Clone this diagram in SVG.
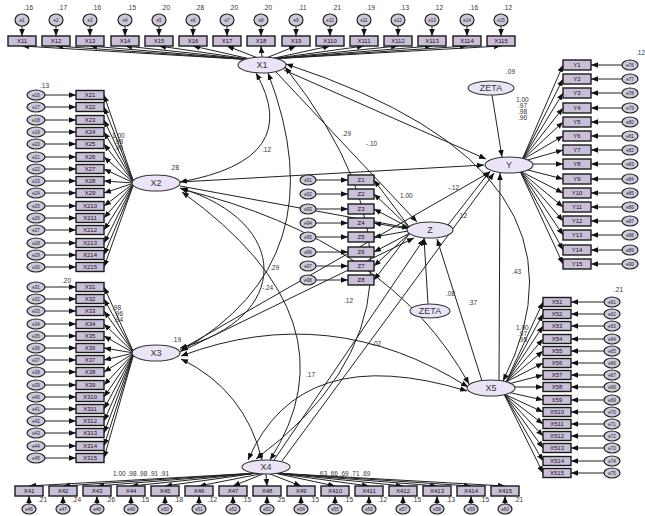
<svg xmlns="http://www.w3.org/2000/svg" width="645" height="516" viewBox="0 0 645 516">
<defs>
<marker id="a" viewBox="0 0 10 10" refX="10" refY="5" markerWidth="7" markerHeight="7" markerUnits="userSpaceOnUse" orient="auto-start-reverse"><path d="M0,1L10,5L0,9z" fill="#111"/></marker>
<style>
.lat{fill:#ebe4f6;stroke:#333;stroke-width:1.1}
.box{fill:#c9bfd8;stroke:#1a1a1a;stroke-width:1.4}
.err{fill:#cfc8dc;stroke:#222;stroke-width:1.2}
.ln{fill:none;stroke:#222;stroke-width:1}
.ar{marker-end:url(#a)}
.cv{marker-start:url(#a);marker-end:url(#a)}
text{font-family:"Liberation Sans",Arial,sans-serif}
.t{font-size:6.5px;fill:#333}
.bl{font-size:6px;fill:#111;text-anchor:middle}
.lt{font-size:9px;fill:#333;text-anchor:middle}
.el{font-size:4.5px;fill:#222;text-anchor:middle}
</style>
</defs>
<rect width="645" height="516" fill="#fff"/>

<g id="connectors">
<line class="ln ar" x1="284" y1="70" x2="486" y2="159"/>
<line class="ln ar" x1="276" y1="72" x2="417" y2="222"/>
<line class="ln ar" x1="180" y1="182" x2="484" y2="165"/>
<line class="ln ar" x1="180" y1="186" x2="409" y2="228"/>
<line class="ln ar" x1="180" y1="350" x2="490" y2="172"/>
<line class="ln ar" x1="180" y1="352" x2="414" y2="238"/>
<line class="ln ar" x1="282" y1="461" x2="494" y2="173"/>
<line class="ln ar" x1="274" y1="460" x2="424" y2="239"/>
<line class="ln ar" x1="499" y1="380" x2="500" y2="173"/>
<line class="ln ar" x1="482" y1="381" x2="437" y2="239"/>
<line class="ln ar" x1="448" y1="225" x2="490" y2="171"/>
<line class="ln ar" x1="492" y1="95" x2="502" y2="157"/>
<line class="ln ar" x1="428" y1="304" x2="424" y2="238"/>
<path class="ln cv" d="M256,73 Q305,160 180,182"/>
<path class="ln cv" d="M180,188 C292,222 292,318 180,348"/>
<path class="ln cv" d="M268,73 Q340,260 181,351"/>
<path class="ln cv" d="M285,67 Q470,300 256,459"/>
<path class="ln cv" d="M286,64 Q610,170 503,381"/>
<path class="ln cv" d="M181,189 Q390,240 469,384"/>
<path class="ln cv" d="M181,356 Q330,300 468,387"/>
<path class="ln cv" d="M248,460 Q300,340 467,391"/>
<path class="ln cv" d="M181,359 Q245,390 262,460"/>
<path class="ln cv" d="M182,192 Q360,320 270,460"/>
<line class="ln ar" x1="22" y1="26" x2="22" y2="36"/><line class="ln ar" x1="255" y1="60" x2="22" y2="46"/>
<line class="ln ar" x1="56" y1="26" x2="56" y2="36"/><line class="ln ar" x1="255" y1="60" x2="56" y2="46"/>
<line class="ln ar" x1="90" y1="26" x2="90" y2="36"/><line class="ln ar" x1="255" y1="60" x2="90" y2="46"/>
<line class="ln ar" x1="125" y1="26" x2="125" y2="36"/><line class="ln ar" x1="255" y1="60" x2="125" y2="46"/>
<line class="ln ar" x1="159" y1="26" x2="159" y2="36"/><line class="ln ar" x1="255" y1="60" x2="159" y2="46"/>
<line class="ln ar" x1="193" y1="26" x2="193" y2="36"/><line class="ln ar" x1="255" y1="60" x2="193" y2="46"/>
<line class="ln ar" x1="227" y1="26" x2="227" y2="36"/><line class="ln ar" x1="258" y1="58" x2="227" y2="46"/>
<line class="ln ar" x1="261" y1="26" x2="261" y2="36"/><line class="ln ar" x1="262" y1="57" x2="261" y2="46"/>
<line class="ln ar" x1="296" y1="26" x2="296" y2="36"/><line class="ln ar" x1="266" y1="58" x2="296" y2="46"/>
<line class="ln ar" x1="330" y1="26" x2="330" y2="36"/><line class="ln ar" x1="270" y1="59" x2="330" y2="46"/>
<line class="ln ar" x1="364" y1="26" x2="364" y2="36"/><line class="ln ar" x1="270" y1="59" x2="364" y2="46"/>
<line class="ln ar" x1="398" y1="26" x2="398" y2="36"/><line class="ln ar" x1="270" y1="59" x2="398" y2="46"/>
<line class="ln ar" x1="432" y1="26" x2="432" y2="36"/><line class="ln ar" x1="270" y1="59" x2="432" y2="46"/>
<line class="ln ar" x1="467" y1="26" x2="467" y2="36"/><line class="ln ar" x1="270" y1="59" x2="467" y2="46"/>
<line class="ln ar" x1="501" y1="26" x2="501" y2="36"/><line class="ln ar" x1="270" y1="59" x2="501" y2="46"/>
<line class="ln ar" x1="29" y1="504" x2="29" y2="496"/><line class="ln ar" x1="258" y1="473" x2="29" y2="486"/>
<line class="ln ar" x1="63" y1="504" x2="63" y2="496"/><line class="ln ar" x1="258" y1="473" x2="63" y2="486"/>
<line class="ln ar" x1="97" y1="504" x2="97" y2="496"/><line class="ln ar" x1="258" y1="473" x2="97" y2="486"/>
<line class="ln ar" x1="131" y1="504" x2="131" y2="496"/><line class="ln ar" x1="258" y1="473" x2="131" y2="486"/>
<line class="ln ar" x1="165" y1="504" x2="165" y2="496"/><line class="ln ar" x1="258" y1="473" x2="165" y2="486"/>
<line class="ln ar" x1="199" y1="504" x2="199" y2="496"/><line class="ln ar" x1="260" y1="474" x2="199" y2="486"/>
<line class="ln ar" x1="233" y1="504" x2="233" y2="496"/><line class="ln ar" x1="263" y1="474" x2="233" y2="486"/>
<line class="ln ar" x1="267" y1="504" x2="267" y2="496"/><line class="ln ar" x1="266" y1="474" x2="267" y2="486"/>
<line class="ln ar" x1="301" y1="504" x2="301" y2="496"/><line class="ln ar" x1="270" y1="474" x2="301" y2="486"/>
<line class="ln ar" x1="335" y1="504" x2="335" y2="496"/><line class="ln ar" x1="274" y1="473" x2="335" y2="486"/>
<line class="ln ar" x1="369" y1="504" x2="369" y2="496"/><line class="ln ar" x1="274" y1="473" x2="369" y2="486"/>
<line class="ln ar" x1="403" y1="504" x2="403" y2="496"/><line class="ln ar" x1="274" y1="473" x2="403" y2="486"/>
<line class="ln ar" x1="437" y1="504" x2="437" y2="496"/><line class="ln ar" x1="274" y1="473" x2="437" y2="486"/>
<line class="ln ar" x1="471" y1="504" x2="471" y2="496"/><line class="ln ar" x1="274" y1="473" x2="471" y2="486"/>
<line class="ln ar" x1="505" y1="504" x2="505" y2="496"/><line class="ln ar" x1="274" y1="473" x2="505" y2="486"/>
<line class="ln ar" x1="45" y1="95" x2="76" y2="95"/><line class="ln ar" x1="134" y1="183" x2="104" y2="95"/>
<line class="ln ar" x1="45" y1="107" x2="76" y2="107"/><line class="ln ar" x1="134" y1="183" x2="104" y2="107"/>
<line class="ln ar" x1="45" y1="120" x2="76" y2="120"/><line class="ln ar" x1="134" y1="183" x2="104" y2="120"/>
<line class="ln ar" x1="45" y1="132" x2="76" y2="132"/><line class="ln ar" x1="134" y1="183" x2="104" y2="132"/>
<line class="ln ar" x1="45" y1="144" x2="76" y2="144"/><line class="ln ar" x1="134" y1="183" x2="104" y2="144"/>
<line class="ln ar" x1="45" y1="157" x2="76" y2="157"/><line class="ln ar" x1="134" y1="183" x2="104" y2="157"/>
<line class="ln ar" x1="45" y1="169" x2="76" y2="169"/><line class="ln ar" x1="134" y1="183" x2="104" y2="169"/>
<line class="ln ar" x1="45" y1="181" x2="76" y2="181"/><line class="ln ar" x1="134" y1="183" x2="104" y2="181"/>
<line class="ln ar" x1="45" y1="193" x2="76" y2="193"/><line class="ln ar" x1="134" y1="183" x2="104" y2="193"/>
<line class="ln ar" x1="45" y1="206" x2="76" y2="206"/><line class="ln ar" x1="134" y1="183" x2="104" y2="206"/>
<line class="ln ar" x1="45" y1="218" x2="76" y2="218"/><line class="ln ar" x1="134" y1="183" x2="104" y2="218"/>
<line class="ln ar" x1="45" y1="230" x2="76" y2="230"/><line class="ln ar" x1="134" y1="183" x2="104" y2="230"/>
<line class="ln ar" x1="45" y1="243" x2="76" y2="243"/><line class="ln ar" x1="134" y1="183" x2="104" y2="243"/>
<line class="ln ar" x1="45" y1="255" x2="76" y2="255"/><line class="ln ar" x1="134" y1="183" x2="104" y2="255"/>
<line class="ln ar" x1="45" y1="267" x2="76" y2="267"/><line class="ln ar" x1="134" y1="183" x2="104" y2="267"/>
<line class="ln ar" x1="45" y1="287" x2="76" y2="287"/><line class="ln ar" x1="134" y1="353" x2="104" y2="287"/>
<line class="ln ar" x1="45" y1="299" x2="76" y2="299"/><line class="ln ar" x1="134" y1="353" x2="104" y2="299"/>
<line class="ln ar" x1="45" y1="311" x2="76" y2="311"/><line class="ln ar" x1="134" y1="353" x2="104" y2="311"/>
<line class="ln ar" x1="45" y1="324" x2="76" y2="324"/><line class="ln ar" x1="134" y1="353" x2="104" y2="324"/>
<line class="ln ar" x1="45" y1="336" x2="76" y2="336"/><line class="ln ar" x1="134" y1="353" x2="104" y2="336"/>
<line class="ln ar" x1="45" y1="348" x2="76" y2="348"/><line class="ln ar" x1="134" y1="353" x2="104" y2="348"/>
<line class="ln ar" x1="45" y1="360" x2="76" y2="360"/><line class="ln ar" x1="134" y1="353" x2="104" y2="360"/>
<line class="ln ar" x1="45" y1="372" x2="76" y2="372"/><line class="ln ar" x1="134" y1="353" x2="104" y2="372"/>
<line class="ln ar" x1="45" y1="385" x2="76" y2="385"/><line class="ln ar" x1="134" y1="353" x2="104" y2="385"/>
<line class="ln ar" x1="45" y1="397" x2="76" y2="397"/><line class="ln ar" x1="134" y1="353" x2="104" y2="397"/>
<line class="ln ar" x1="45" y1="409" x2="76" y2="409"/><line class="ln ar" x1="134" y1="353" x2="104" y2="409"/>
<line class="ln ar" x1="45" y1="421" x2="76" y2="421"/><line class="ln ar" x1="134" y1="353" x2="104" y2="421"/>
<line class="ln ar" x1="45" y1="433" x2="76" y2="433"/><line class="ln ar" x1="134" y1="353" x2="104" y2="433"/>
<line class="ln ar" x1="45" y1="446" x2="76" y2="446"/><line class="ln ar" x1="134" y1="353" x2="104" y2="446"/>
<line class="ln ar" x1="45" y1="458" x2="76" y2="458"/><line class="ln ar" x1="134" y1="353" x2="104" y2="458"/>
<line class="ln ar" x1="622" y1="65" x2="591" y2="65"/><line class="ln ar" x1="522" y1="160" x2="563" y2="65"/>
<line class="ln ar" x1="622" y1="79" x2="591" y2="79"/><line class="ln ar" x1="522" y1="160" x2="563" y2="79"/>
<line class="ln ar" x1="622" y1="93" x2="591" y2="93"/><line class="ln ar" x1="522" y1="160" x2="563" y2="93"/>
<line class="ln ar" x1="622" y1="108" x2="591" y2="108"/><line class="ln ar" x1="522" y1="160" x2="563" y2="108"/>
<line class="ln ar" x1="622" y1="122" x2="591" y2="122"/><line class="ln ar" x1="522" y1="160" x2="563" y2="122"/>
<line class="ln ar" x1="622" y1="136" x2="591" y2="136"/><line class="ln ar" x1="522" y1="160" x2="563" y2="136"/>
<line class="ln ar" x1="622" y1="150" x2="591" y2="150"/><line class="ln ar" x1="524" y1="161" x2="563" y2="150"/>
<line class="ln ar" x1="622" y1="164" x2="591" y2="164"/><line class="ln ar" x1="528" y1="164" x2="563" y2="164"/>
<line class="ln ar" x1="622" y1="179" x2="591" y2="179"/><line class="ln ar" x1="524" y1="169" x2="563" y2="179"/>
<line class="ln ar" x1="622" y1="193" x2="591" y2="193"/><line class="ln ar" x1="520" y1="171" x2="563" y2="193"/>
<line class="ln ar" x1="622" y1="207" x2="591" y2="207"/><line class="ln ar" x1="520" y1="171" x2="563" y2="207"/>
<line class="ln ar" x1="622" y1="221" x2="591" y2="221"/><line class="ln ar" x1="520" y1="171" x2="563" y2="221"/>
<line class="ln ar" x1="622" y1="235" x2="591" y2="235"/><line class="ln ar" x1="520" y1="171" x2="563" y2="235"/>
<line class="ln ar" x1="622" y1="250" x2="591" y2="250"/><line class="ln ar" x1="520" y1="171" x2="563" y2="250"/>
<line class="ln ar" x1="622" y1="264" x2="591" y2="264"/><line class="ln ar" x1="520" y1="171" x2="563" y2="264"/>
<line class="ln ar" x1="604" y1="302" x2="571" y2="302"/><line class="ln ar" x1="506" y1="382" x2="543" y2="302"/>
<line class="ln ar" x1="604" y1="314" x2="571" y2="314"/><line class="ln ar" x1="506" y1="382" x2="543" y2="314"/>
<line class="ln ar" x1="604" y1="326" x2="571" y2="326"/><line class="ln ar" x1="506" y1="382" x2="543" y2="326"/>
<line class="ln ar" x1="604" y1="339" x2="571" y2="339"/><line class="ln ar" x1="506" y1="382" x2="543" y2="339"/>
<line class="ln ar" x1="604" y1="351" x2="571" y2="351"/><line class="ln ar" x1="506" y1="382" x2="543" y2="351"/>
<line class="ln ar" x1="604" y1="363" x2="571" y2="363"/><line class="ln ar" x1="506" y1="382" x2="543" y2="363"/>
<line class="ln ar" x1="604" y1="375" x2="571" y2="375"/><line class="ln ar" x1="508" y1="384" x2="543" y2="375"/>
<line class="ln ar" x1="604" y1="387" x2="571" y2="387"/><line class="ln ar" x1="512" y1="387" x2="543" y2="387"/>
<line class="ln ar" x1="604" y1="400" x2="571" y2="400"/><line class="ln ar" x1="507" y1="392" x2="543" y2="400"/>
<line class="ln ar" x1="604" y1="412" x2="571" y2="412"/><line class="ln ar" x1="504" y1="394" x2="543" y2="412"/>
<line class="ln ar" x1="604" y1="424" x2="571" y2="424"/><line class="ln ar" x1="504" y1="394" x2="543" y2="424"/>
<line class="ln ar" x1="604" y1="436" x2="571" y2="436"/><line class="ln ar" x1="504" y1="394" x2="543" y2="436"/>
<line class="ln ar" x1="604" y1="448" x2="571" y2="448"/><line class="ln ar" x1="504" y1="394" x2="543" y2="448"/>
<line class="ln ar" x1="604" y1="461" x2="571" y2="461"/><line class="ln ar" x1="504" y1="394" x2="543" y2="461"/>
<line class="ln ar" x1="604" y1="473" x2="571" y2="473"/><line class="ln ar" x1="504" y1="394" x2="543" y2="473"/>
<line class="ln ar" x1="316" y1="180" x2="348" y2="180"/><line class="ln ar" x1="410" y1="228" x2="374" y2="180"/>
<line class="ln ar" x1="316" y1="194" x2="348" y2="194"/><line class="ln ar" x1="410" y1="228" x2="374" y2="194"/>
<line class="ln ar" x1="316" y1="209" x2="348" y2="209"/><line class="ln ar" x1="410" y1="228" x2="374" y2="209"/>
<line class="ln ar" x1="316" y1="223" x2="348" y2="223"/><line class="ln ar" x1="408" y1="229" x2="374" y2="223"/>
<line class="ln ar" x1="316" y1="237" x2="348" y2="237"/><line class="ln ar" x1="408" y1="231" x2="374" y2="237"/>
<line class="ln ar" x1="316" y1="252" x2="348" y2="252"/><line class="ln ar" x1="410" y1="233" x2="374" y2="252"/>
<line class="ln ar" x1="316" y1="266" x2="348" y2="266"/><line class="ln ar" x1="410" y1="233" x2="374" y2="266"/>
<line class="ln ar" x1="316" y1="280" x2="348" y2="280"/><line class="ln ar" x1="410" y1="233" x2="374" y2="280"/>
</g>

<g id="X1"><ellipse class="lat" cx="262" cy="65" rx="24" ry="8"/><text class="lt" x="262" y="68">X1</text></g>
<g id="X2"><ellipse class="lat" cx="156" cy="183" rx="24" ry="8"/><text class="lt" x="156" y="186">X2</text></g>
<g id="X3"><ellipse class="lat" cx="156" cy="353" rx="24" ry="8"/><text class="lt" x="156" y="356">X3</text></g>
<g id="X4"><ellipse class="lat" cx="266" cy="467" rx="24" ry="7"/><text class="lt" x="266" y="470">X4</text></g>
<g id="X5"><ellipse class="lat" cx="491" cy="388" rx="24" ry="8"/><text class="lt" x="491" y="391">X5</text></g>
<g id="Y"><ellipse class="lat" cx="509" cy="165" rx="24" ry="8"/><text class="lt" x="509" y="168">Y</text></g>
<g id="Z"><ellipse class="lat" cx="430" cy="230" rx="23" ry="8"/><text class="lt" x="430" y="233">Z</text></g>
<g id="ZETA1"><ellipse class="lat" cx="491" cy="88" rx="23" ry="7"/><text class="lt" x="491" y="91">ZETA</text></g>
<g id="ZETA2"><ellipse class="lat" cx="430" cy="311" rx="20" ry="7"/><text class="lt" x="430" y="314">ZETA</text></g>

<g id="X11"><ellipse class="err" cx="22" cy="20" rx="7" ry="6"/><text class="el" x="22" y="21.5">e1</text><rect class="box" x="8" y="36" width="28" height="10"/><text class="bl" x="22" y="43">X11</text></g>
<g id="X12"><ellipse class="err" cx="56" cy="20" rx="7" ry="6"/><text class="el" x="56" y="21.5">e2</text><rect class="box" x="42" y="36" width="28" height="10"/><text class="bl" x="56" y="43">X12</text></g>
<g id="X13"><ellipse class="err" cx="90" cy="20" rx="7" ry="6"/><text class="el" x="90" y="21.5">e3</text><rect class="box" x="76" y="36" width="28" height="10"/><text class="bl" x="90" y="43">X13</text></g>
<g id="X14"><ellipse class="err" cx="125" cy="20" rx="7" ry="6"/><text class="el" x="125" y="21.5">e4</text><rect class="box" x="111" y="36" width="28" height="10"/><text class="bl" x="125" y="43">X14</text></g>
<g id="X15"><ellipse class="err" cx="159" cy="20" rx="7" ry="6"/><text class="el" x="159" y="21.5">e5</text><rect class="box" x="145" y="36" width="28" height="10"/><text class="bl" x="159" y="43">X15</text></g>
<g id="X16"><ellipse class="err" cx="193" cy="20" rx="7" ry="6"/><text class="el" x="193" y="21.5">e6</text><rect class="box" x="179" y="36" width="28" height="10"/><text class="bl" x="193" y="43">X16</text></g>
<g id="X17"><ellipse class="err" cx="227" cy="20" rx="7" ry="6"/><text class="el" x="227" y="21.5">e7</text><rect class="box" x="213" y="36" width="28" height="10"/><text class="bl" x="227" y="43">X17</text></g>
<g id="X18"><ellipse class="err" cx="261" cy="20" rx="7" ry="6"/><text class="el" x="261" y="21.5">e8</text><rect class="box" x="247" y="36" width="28" height="10"/><text class="bl" x="261" y="43">X18</text></g>
<g id="X19"><ellipse class="err" cx="296" cy="20" rx="7" ry="6"/><text class="el" x="296" y="21.5">e9</text><rect class="box" x="282" y="36" width="28" height="10"/><text class="bl" x="296" y="43">X19</text></g>
<g id="X110"><ellipse class="err" cx="330" cy="20" rx="7" ry="6"/><text class="el" x="330" y="21.5">e10</text><rect class="box" x="316" y="36" width="28" height="10"/><text class="bl" x="330" y="43">X110</text></g>
<g id="X111"><ellipse class="err" cx="364" cy="20" rx="7" ry="6"/><text class="el" x="364" y="21.5">e11</text><rect class="box" x="350" y="36" width="28" height="10"/><text class="bl" x="364" y="43">X111</text></g>
<g id="X112"><ellipse class="err" cx="398" cy="20" rx="7" ry="6"/><text class="el" x="398" y="21.5">e12</text><rect class="box" x="384" y="36" width="28" height="10"/><text class="bl" x="398" y="43">X112</text></g>
<g id="X113"><ellipse class="err" cx="432" cy="20" rx="7" ry="6"/><text class="el" x="432" y="21.5">e13</text><rect class="box" x="418" y="36" width="28" height="10"/><text class="bl" x="432" y="43">X113</text></g>
<g id="X114"><ellipse class="err" cx="467" cy="20" rx="7" ry="6"/><text class="el" x="467" y="21.5">e14</text><rect class="box" x="453" y="36" width="28" height="10"/><text class="bl" x="467" y="43">X114</text></g>
<g id="X115"><ellipse class="err" cx="501" cy="20" rx="7" ry="6"/><text class="el" x="501" y="21.5">e15</text><rect class="box" x="487" y="36" width="28" height="10"/><text class="bl" x="501" y="43">X115</text></g>

<g id="X41"><rect class="box" x="15" y="486" width="28" height="10"/><text class="bl" x="29" y="493">X41</text><ellipse class="err" cx="29" cy="509" rx="7" ry="5"/><text class="el" x="29" y="510.5">e46</text></g>
<g id="X42"><rect class="box" x="49" y="486" width="28" height="10"/><text class="bl" x="63" y="493">X42</text><ellipse class="err" cx="63" cy="509" rx="7" ry="5"/><text class="el" x="63" y="510.5">e47</text></g>
<g id="X43"><rect class="box" x="83" y="486" width="28" height="10"/><text class="bl" x="97" y="493">X43</text><ellipse class="err" cx="97" cy="509" rx="7" ry="5"/><text class="el" x="97" y="510.5">e48</text></g>
<g id="X44"><rect class="box" x="117" y="486" width="28" height="10"/><text class="bl" x="131" y="493">X44</text><ellipse class="err" cx="131" cy="509" rx="7" ry="5"/><text class="el" x="131" y="510.5">e49</text></g>
<g id="X45"><rect class="box" x="151" y="486" width="28" height="10"/><text class="bl" x="165" y="493">X45</text><ellipse class="err" cx="165" cy="509" rx="7" ry="5"/><text class="el" x="165" y="510.5">e50</text></g>
<g id="X46"><rect class="box" x="185" y="486" width="28" height="10"/><text class="bl" x="199" y="493">X46</text><ellipse class="err" cx="199" cy="509" rx="7" ry="5"/><text class="el" x="199" y="510.5">e51</text></g>
<g id="X47"><rect class="box" x="219" y="486" width="28" height="10"/><text class="bl" x="233" y="493">X47</text><ellipse class="err" cx="233" cy="509" rx="7" ry="5"/><text class="el" x="233" y="510.5">e52</text></g>
<g id="X48"><rect class="box" x="253" y="486" width="28" height="10"/><text class="bl" x="267" y="493">X48</text><ellipse class="err" cx="267" cy="509" rx="7" ry="5"/><text class="el" x="267" y="510.5">e53</text></g>
<g id="X49"><rect class="box" x="287" y="486" width="28" height="10"/><text class="bl" x="301" y="493">X49</text><ellipse class="err" cx="301" cy="509" rx="7" ry="5"/><text class="el" x="301" y="510.5">e54</text></g>
<g id="X410"><rect class="box" x="321" y="486" width="28" height="10"/><text class="bl" x="335" y="493">X410</text><ellipse class="err" cx="335" cy="509" rx="7" ry="5"/><text class="el" x="335" y="510.5">e55</text></g>
<g id="X411"><rect class="box" x="355" y="486" width="28" height="10"/><text class="bl" x="369" y="493">X411</text><ellipse class="err" cx="369" cy="509" rx="7" ry="5"/><text class="el" x="369" y="510.5">e56</text></g>
<g id="X412"><rect class="box" x="389" y="486" width="28" height="10"/><text class="bl" x="403" y="493">X412</text><ellipse class="err" cx="403" cy="509" rx="7" ry="5"/><text class="el" x="403" y="510.5">e57</text></g>
<g id="X413"><rect class="box" x="423" y="486" width="28" height="10"/><text class="bl" x="437" y="493">X413</text><ellipse class="err" cx="437" cy="509" rx="7" ry="5"/><text class="el" x="437" y="510.5">e58</text></g>
<g id="X414"><rect class="box" x="457" y="486" width="28" height="10"/><text class="bl" x="471" y="493">X414</text><ellipse class="err" cx="471" cy="509" rx="7" ry="5"/><text class="el" x="471" y="510.5">e59</text></g>
<g id="X415"><rect class="box" x="491" y="486" width="28" height="10"/><text class="bl" x="505" y="493">X415</text><ellipse class="err" cx="505" cy="509" rx="7" ry="5"/><text class="el" x="505" y="510.5">e60</text></g>

<g id="X21"><ellipse class="err" cx="36" cy="95" rx="9" ry="5"/><text class="el" x="36" y="96.5">e16</text><rect class="box" x="76" y="90.5" width="28" height="9"/><text class="bl" x="90" y="97">X21</text></g>
<g id="X22"><ellipse class="err" cx="36" cy="107" rx="9" ry="5"/><text class="el" x="36" y="108.5">e17</text><rect class="box" x="76" y="102.5" width="28" height="9"/><text class="bl" x="90" y="109">X22</text></g>
<g id="X23"><ellipse class="err" cx="36" cy="120" rx="9" ry="5"/><text class="el" x="36" y="121.5">e18</text><rect class="box" x="76" y="115.5" width="28" height="9"/><text class="bl" x="90" y="122">X23</text></g>
<g id="X24"><ellipse class="err" cx="36" cy="132" rx="9" ry="5"/><text class="el" x="36" y="133.5">e19</text><rect class="box" x="76" y="127.5" width="28" height="9"/><text class="bl" x="90" y="134">X24</text></g>
<g id="X25"><ellipse class="err" cx="36" cy="144" rx="9" ry="5"/><text class="el" x="36" y="145.5">e20</text><rect class="box" x="76" y="139.5" width="28" height="9"/><text class="bl" x="90" y="146">X25</text></g>
<g id="X26"><ellipse class="err" cx="36" cy="157" rx="9" ry="5"/><text class="el" x="36" y="158.5">e21</text><rect class="box" x="76" y="152.5" width="28" height="9"/><text class="bl" x="90" y="159">X26</text></g>
<g id="X27"><ellipse class="err" cx="36" cy="169" rx="9" ry="5"/><text class="el" x="36" y="170.5">e22</text><rect class="box" x="76" y="164.5" width="28" height="9"/><text class="bl" x="90" y="171">X27</text></g>
<g id="X28"><ellipse class="err" cx="36" cy="181" rx="9" ry="5"/><text class="el" x="36" y="182.5">e23</text><rect class="box" x="76" y="176.5" width="28" height="9"/><text class="bl" x="90" y="183">X28</text></g>
<g id="X29"><ellipse class="err" cx="36" cy="193" rx="9" ry="5"/><text class="el" x="36" y="194.5">e24</text><rect class="box" x="76" y="188.5" width="28" height="9"/><text class="bl" x="90" y="195">X29</text></g>
<g id="X210"><ellipse class="err" cx="36" cy="206" rx="9" ry="5"/><text class="el" x="36" y="207.5">e25</text><rect class="box" x="76" y="201.5" width="28" height="9"/><text class="bl" x="90" y="208">X210</text></g>
<g id="X211"><ellipse class="err" cx="36" cy="218" rx="9" ry="5"/><text class="el" x="36" y="219.5">e26</text><rect class="box" x="76" y="213.5" width="28" height="9"/><text class="bl" x="90" y="220">X211</text></g>
<g id="X212"><ellipse class="err" cx="36" cy="230" rx="9" ry="5"/><text class="el" x="36" y="231.5">e27</text><rect class="box" x="76" y="225.5" width="28" height="9"/><text class="bl" x="90" y="232">X212</text></g>
<g id="X213"><ellipse class="err" cx="36" cy="243" rx="9" ry="5"/><text class="el" x="36" y="244.5">e28</text><rect class="box" x="76" y="238.5" width="28" height="9"/><text class="bl" x="90" y="245">X213</text></g>
<g id="X214"><ellipse class="err" cx="36" cy="255" rx="9" ry="5"/><text class="el" x="36" y="256.5">e29</text><rect class="box" x="76" y="250.5" width="28" height="9"/><text class="bl" x="90" y="257">X214</text></g>
<g id="X215"><ellipse class="err" cx="36" cy="267" rx="9" ry="5"/><text class="el" x="36" y="268.5">e30</text><rect class="box" x="76" y="262.5" width="28" height="9"/><text class="bl" x="90" y="269">X215</text></g>

<g id="X31"><ellipse class="err" cx="36" cy="287" rx="9" ry="5"/><text class="el" x="36" y="288.5">e31</text><rect class="box" x="76" y="282.5" width="28" height="9"/><text class="bl" x="90" y="289">X31</text></g>
<g id="X32"><ellipse class="err" cx="36" cy="299" rx="9" ry="5"/><text class="el" x="36" y="300.5">e32</text><rect class="box" x="76" y="294.5" width="28" height="9"/><text class="bl" x="90" y="301">X32</text></g>
<g id="X33"><ellipse class="err" cx="36" cy="311" rx="9" ry="5"/><text class="el" x="36" y="312.5">e33</text><rect class="box" x="76" y="306.5" width="28" height="9"/><text class="bl" x="90" y="313">X33</text></g>
<g id="X34"><ellipse class="err" cx="36" cy="324" rx="9" ry="5"/><text class="el" x="36" y="325.5">e34</text><rect class="box" x="76" y="319.5" width="28" height="9"/><text class="bl" x="90" y="326">X34</text></g>
<g id="X35"><ellipse class="err" cx="36" cy="336" rx="9" ry="5"/><text class="el" x="36" y="337.5">e35</text><rect class="box" x="76" y="331.5" width="28" height="9"/><text class="bl" x="90" y="338">X35</text></g>
<g id="X36"><ellipse class="err" cx="36" cy="348" rx="9" ry="5"/><text class="el" x="36" y="349.5">e36</text><rect class="box" x="76" y="343.5" width="28" height="9"/><text class="bl" x="90" y="350">X36</text></g>
<g id="X37"><ellipse class="err" cx="36" cy="360" rx="9" ry="5"/><text class="el" x="36" y="361.5">e37</text><rect class="box" x="76" y="355.5" width="28" height="9"/><text class="bl" x="90" y="362">X37</text></g>
<g id="X38"><ellipse class="err" cx="36" cy="372" rx="9" ry="5"/><text class="el" x="36" y="373.5">e38</text><rect class="box" x="76" y="367.5" width="28" height="9"/><text class="bl" x="90" y="374">X38</text></g>
<g id="X39"><ellipse class="err" cx="36" cy="385" rx="9" ry="5"/><text class="el" x="36" y="386.5">e39</text><rect class="box" x="76" y="380.5" width="28" height="9"/><text class="bl" x="90" y="387">X39</text></g>
<g id="X310"><ellipse class="err" cx="36" cy="397" rx="9" ry="5"/><text class="el" x="36" y="398.5">e40</text><rect class="box" x="76" y="392.5" width="28" height="9"/><text class="bl" x="90" y="399">X310</text></g>
<g id="X311"><ellipse class="err" cx="36" cy="409" rx="9" ry="5"/><text class="el" x="36" y="410.5">e41</text><rect class="box" x="76" y="404.5" width="28" height="9"/><text class="bl" x="90" y="411">X311</text></g>
<g id="X312"><ellipse class="err" cx="36" cy="421" rx="9" ry="5"/><text class="el" x="36" y="422.5">e42</text><rect class="box" x="76" y="416.5" width="28" height="9"/><text class="bl" x="90" y="423">X312</text></g>
<g id="X313"><ellipse class="err" cx="36" cy="433" rx="9" ry="5"/><text class="el" x="36" y="434.5">e43</text><rect class="box" x="76" y="428.5" width="28" height="9"/><text class="bl" x="90" y="435">X313</text></g>
<g id="X314"><ellipse class="err" cx="36" cy="446" rx="9" ry="5"/><text class="el" x="36" y="447.5">e44</text><rect class="box" x="76" y="441.5" width="28" height="9"/><text class="bl" x="90" y="448">X314</text></g>
<g id="X315"><ellipse class="err" cx="36" cy="458" rx="9" ry="5"/><text class="el" x="36" y="459.5">e45</text><rect class="box" x="76" y="453.5" width="28" height="9"/><text class="bl" x="90" y="460">X315</text></g>

<g id="Y1"><rect class="box" x="563" y="60" width="28" height="10"/><text class="bl" x="577" y="67">Y1</text><ellipse class="err" cx="630" cy="65" rx="8" ry="5"/><text class="el" x="630" y="66.5">e76</text></g>
<g id="Y2"><rect class="box" x="563" y="74" width="28" height="10"/><text class="bl" x="577" y="81">Y2</text><ellipse class="err" cx="630" cy="79" rx="8" ry="5"/><text class="el" x="630" y="80.5">e77</text></g>
<g id="Y3"><rect class="box" x="563" y="88" width="28" height="10"/><text class="bl" x="577" y="95">Y3</text><ellipse class="err" cx="630" cy="93" rx="8" ry="5"/><text class="el" x="630" y="94.5">e78</text></g>
<g id="Y4"><rect class="box" x="563" y="103" width="28" height="10"/><text class="bl" x="577" y="110">Y4</text><ellipse class="err" cx="630" cy="108" rx="8" ry="5"/><text class="el" x="630" y="109.5">e79</text></g>
<g id="Y5"><rect class="box" x="563" y="117" width="28" height="10"/><text class="bl" x="577" y="124">Y5</text><ellipse class="err" cx="630" cy="122" rx="8" ry="5"/><text class="el" x="630" y="123.5">e80</text></g>
<g id="Y6"><rect class="box" x="563" y="131" width="28" height="10"/><text class="bl" x="577" y="138">Y6</text><ellipse class="err" cx="630" cy="136" rx="8" ry="5"/><text class="el" x="630" y="137.5">e81</text></g>
<g id="Y7"><rect class="box" x="563" y="145" width="28" height="10"/><text class="bl" x="577" y="152">Y7</text><ellipse class="err" cx="630" cy="150" rx="8" ry="5"/><text class="el" x="630" y="151.5">e82</text></g>
<g id="Y8"><rect class="box" x="563" y="159" width="28" height="10"/><text class="bl" x="577" y="166">Y8</text><ellipse class="err" cx="630" cy="164" rx="8" ry="5"/><text class="el" x="630" y="165.5">e83</text></g>
<g id="Y9"><rect class="box" x="563" y="174" width="28" height="10"/><text class="bl" x="577" y="181">Y9</text><ellipse class="err" cx="630" cy="179" rx="8" ry="5"/><text class="el" x="630" y="180.5">e84</text></g>
<g id="Y10"><rect class="box" x="563" y="188" width="28" height="10"/><text class="bl" x="577" y="195">Y10</text><ellipse class="err" cx="630" cy="193" rx="8" ry="5"/><text class="el" x="630" y="194.5">e85</text></g>
<g id="Y11"><rect class="box" x="563" y="202" width="28" height="10"/><text class="bl" x="577" y="209">Y11</text><ellipse class="err" cx="630" cy="207" rx="8" ry="5"/><text class="el" x="630" y="208.5">e86</text></g>
<g id="Y12"><rect class="box" x="563" y="216" width="28" height="10"/><text class="bl" x="577" y="223">Y12</text><ellipse class="err" cx="630" cy="221" rx="8" ry="5"/><text class="el" x="630" y="222.5">e87</text></g>
<g id="Y13"><rect class="box" x="563" y="230" width="28" height="10"/><text class="bl" x="577" y="237">Y13</text><ellipse class="err" cx="630" cy="235" rx="8" ry="5"/><text class="el" x="630" y="236.5">e88</text></g>
<g id="Y14"><rect class="box" x="563" y="245" width="28" height="10"/><text class="bl" x="577" y="252">Y14</text><ellipse class="err" cx="630" cy="250" rx="8" ry="5"/><text class="el" x="630" y="251.5">e89</text></g>
<g id="Y15"><rect class="box" x="563" y="259" width="28" height="10"/><text class="bl" x="577" y="266">Y15</text><ellipse class="err" cx="630" cy="264" rx="8" ry="5"/><text class="el" x="630" y="265.5">e90</text></g>

<g id="X51"><rect class="box" x="543" y="297.5" width="28" height="9"/><text class="bl" x="557" y="304">X51</text><ellipse class="err" cx="612" cy="302" rx="8" ry="5"/><text class="el" x="612" y="303.5">e61</text></g>
<g id="X52"><rect class="box" x="543" y="309.5" width="28" height="9"/><text class="bl" x="557" y="316">X52</text><ellipse class="err" cx="612" cy="314" rx="8" ry="5"/><text class="el" x="612" y="315.5">e62</text></g>
<g id="X53"><rect class="box" x="543" y="321.5" width="28" height="9"/><text class="bl" x="557" y="328">X53</text><ellipse class="err" cx="612" cy="326" rx="8" ry="5"/><text class="el" x="612" y="327.5">e63</text></g>
<g id="X54"><rect class="box" x="543" y="334.5" width="28" height="9"/><text class="bl" x="557" y="341">X54</text><ellipse class="err" cx="612" cy="339" rx="8" ry="5"/><text class="el" x="612" y="340.5">e64</text></g>
<g id="X55"><rect class="box" x="543" y="346.5" width="28" height="9"/><text class="bl" x="557" y="353">X55</text><ellipse class="err" cx="612" cy="351" rx="8" ry="5"/><text class="el" x="612" y="352.5">e65</text></g>
<g id="X56"><rect class="box" x="543" y="358.5" width="28" height="9"/><text class="bl" x="557" y="365">X56</text><ellipse class="err" cx="612" cy="363" rx="8" ry="5"/><text class="el" x="612" y="364.5">e66</text></g>
<g id="X57"><rect class="box" x="543" y="370.5" width="28" height="9"/><text class="bl" x="557" y="377">X57</text><ellipse class="err" cx="612" cy="375" rx="8" ry="5"/><text class="el" x="612" y="376.5">e67</text></g>
<g id="X58"><rect class="box" x="543" y="382.5" width="28" height="9"/><text class="bl" x="557" y="389">X58</text><ellipse class="err" cx="612" cy="387" rx="8" ry="5"/><text class="el" x="612" y="388.5">e68</text></g>
<g id="X59"><rect class="box" x="543" y="395.5" width="28" height="9"/><text class="bl" x="557" y="402">X59</text><ellipse class="err" cx="612" cy="400" rx="8" ry="5"/><text class="el" x="612" y="401.5">e69</text></g>
<g id="X510"><rect class="box" x="543" y="407.5" width="28" height="9"/><text class="bl" x="557" y="414">X510</text><ellipse class="err" cx="612" cy="412" rx="8" ry="5"/><text class="el" x="612" y="413.5">e70</text></g>
<g id="X511"><rect class="box" x="543" y="419.5" width="28" height="9"/><text class="bl" x="557" y="426">X511</text><ellipse class="err" cx="612" cy="424" rx="8" ry="5"/><text class="el" x="612" y="425.5">e71</text></g>
<g id="X512"><rect class="box" x="543" y="431.5" width="28" height="9"/><text class="bl" x="557" y="438">X512</text><ellipse class="err" cx="612" cy="436" rx="8" ry="5"/><text class="el" x="612" y="437.5">e72</text></g>
<g id="X513"><rect class="box" x="543" y="443.5" width="28" height="9"/><text class="bl" x="557" y="450">X513</text><ellipse class="err" cx="612" cy="448" rx="8" ry="5"/><text class="el" x="612" y="449.5">e73</text></g>
<g id="X514"><rect class="box" x="543" y="456.5" width="28" height="9"/><text class="bl" x="557" y="463">X514</text><ellipse class="err" cx="612" cy="461" rx="8" ry="5"/><text class="el" x="612" y="462.5">e74</text></g>
<g id="X515"><rect class="box" x="543" y="468.5" width="28" height="9"/><text class="bl" x="557" y="475">X515</text><ellipse class="err" cx="612" cy="473" rx="8" ry="5"/><text class="el" x="612" y="474.5">e75</text></g>

<g id="Z1"><ellipse class="err" cx="308" cy="180" rx="8" ry="5"/><text class="el" x="308" y="181.5">e91</text><rect class="box" x="348" y="175" width="26" height="10"/><text class="bl" x="361" y="182">Z1</text></g>
<g id="Z2"><ellipse class="err" cx="308" cy="194" rx="8" ry="5"/><text class="el" x="308" y="195.5">e92</text><rect class="box" x="348" y="189" width="26" height="10"/><text class="bl" x="361" y="196">Z2</text></g>
<g id="Z3"><ellipse class="err" cx="308" cy="209" rx="8" ry="5"/><text class="el" x="308" y="210.5">e93</text><rect class="box" x="348" y="204" width="26" height="10"/><text class="bl" x="361" y="211">Z3</text></g>
<g id="Z4"><ellipse class="err" cx="308" cy="223" rx="8" ry="5"/><text class="el" x="308" y="224.5">e94</text><rect class="box" x="348" y="218" width="26" height="10"/><text class="bl" x="361" y="225">Z4</text></g>
<g id="Z5"><ellipse class="err" cx="308" cy="237" rx="8" ry="5"/><text class="el" x="308" y="238.5">e95</text><rect class="box" x="348" y="232" width="26" height="10"/><text class="bl" x="361" y="239">Z5</text></g>
<g id="Z6"><ellipse class="err" cx="308" cy="252" rx="8" ry="5"/><text class="el" x="308" y="253.5">e96</text><rect class="box" x="348" y="247" width="26" height="10"/><text class="bl" x="361" y="254">Z6</text></g>
<g id="Z7"><ellipse class="err" cx="308" cy="266" rx="8" ry="5"/><text class="el" x="308" y="267.5">e97</text><rect class="box" x="348" y="261" width="26" height="10"/><text class="bl" x="361" y="268">Z7</text></g>
<g id="Z8"><ellipse class="err" cx="308" cy="280" rx="8" ry="5"/><text class="el" x="308" y="281.5">e98</text><rect class="box" x="348" y="275" width="26" height="10"/><text class="bl" x="361" y="282">Z8</text></g>

<g id="labels">
<text class="t" x="24" y="10">.16</text><text class="t" x="58" y="10">.17</text><text class="t" x="92" y="10">.16</text><text class="t" x="127" y="10">.15</text><text class="t" x="161" y="10">.20</text><text class="t" x="195" y="10">.28</text><text class="t" x="229" y="10">.20</text><text class="t" x="263" y="10">.20</text><text class="t" x="298" y="10">.11</text><text class="t" x="332" y="10">.21</text><text class="t" x="366" y="10">.19</text><text class="t" x="400" y="10">.13</text><text class="t" x="434" y="10">.12</text><text class="t" x="469" y="10">.16</text><text class="t" x="503" y="10">.12</text>
<text class="t" x="38" y="502">.21</text><text class="t" x="72" y="502">.24</text><text class="t" x="106" y="502">.26</text><text class="t" x="140" y="502">.15</text><text class="t" x="174" y="502">.18</text><text class="t" x="208" y="502">.12</text><text class="t" x="242" y="502">.15</text><text class="t" x="276" y="502">.25</text><text class="t" x="310" y="502">.15</text><text class="t" x="344" y="502">.15</text><text class="t" x="378" y="502">.12</text><text class="t" x="412" y="502">.15</text><text class="t" x="446" y="502">.13</text><text class="t" x="480" y="502">.15</text><text class="t" x="514" y="502">.21</text>
<text class="t" x="113" y="476">1.00 .98 .98 .91 .91</text>
<text class="t" x="318" y="476">.63 .66 .69 .71 .69</text>
<text class="t" x="40" y="88">.13</text>
<text class="t" x="62" y="283">.20</text>
<text class="t" x="112" y="138">1.00</text><text class="t" x="114" y="144">.98</text><text class="t" x="114" y="150">.96</text>
<text class="t" x="112" y="310">.98</text><text class="t" x="114" y="316">.96</text><text class="t" x="114" y="322">.94</text>
<text class="t" x="170" y="170">.28</text>
<text class="t" x="172" y="342">.19</text>
<text class="t" x="516" y="102">1.00</text><text class="t" x="518" y="108">.97</text><text class="t" x="518" y="114">.98</text><text class="t" x="518" y="120">.96</text>
<text class="t" x="516" y="330">1.00</text><text class="t" x="518" y="336">.97</text><text class="t" x="518" y="342">.95</text>
<text class="t" x="636" y="55">.12</text>
<text class="t" x="614" y="292">.21</text>
<text class="t" x="506" y="74">.09</text>
<text class="t" x="262" y="152">.12</text>
<text class="t" x="342" y="136">.29</text>
<text class="t" x="366" y="146">-.10</text>
<text class="t" x="400" y="198">1.00</text>
<text class="t" x="448" y="190">-.12</text>
<text class="t" x="458" y="218">.12</text>
<text class="t" x="270" y="270">.29</text>
<text class="t" x="262" y="290">-.24</text>
<text class="t" x="344" y="303">.12</text>
<text class="t" x="306" y="377">.17</text>
<text class="t" x="370" y="346">-.02</text>
<text class="t" x="468" y="305">.37</text>
<text class="t" x="512" y="274">.43</text>
<text class="t" x="446" y="296">.08</text>
</g>
</svg>
